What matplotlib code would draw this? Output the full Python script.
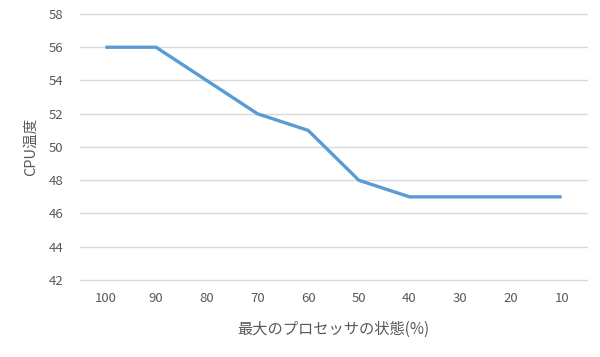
import matplotlib
matplotlib.use("Agg")
import matplotlib.pyplot as plt

# data
categories = ["100", "90", "80", "70", "60", "50", "40", "30", "20", "10"]
cpu_temp = [56, 56, 54, 52, 51, 48, 47, 47, 47, 47]
y_ticks = [42, 44, 46, 48, 50, 52, 54, 56, 58]

plt.rcParams["font.family"] = ["Noto Sans CJK JP", "DejaVu Sans"]

fig = plt.figure(figsize=(6.0, 3.57), dpi=100)
ax = fig.add_axes([0.1333, 0.2157, 0.845, 0.7451])

x = list(range(len(categories)))
ax.plot(x, cpu_temp, color="#5B9BD5", linewidth=2.4, solid_capstyle="butt", zorder=3)

ax.set_xlim(-0.5, len(categories) - 0.5)
ax.set_ylim(y_ticks[0], y_ticks[-1])
ax.set_yticks(y_ticks)
ax.set_xticks(x)
ax.set_xticklabels(categories)

# horizontal gridlines, drawn unclipped so the 42 and 58 lines show fully
for v in y_ticks:
    ax.axhline(v, color="#D9D9D9", linewidth=1.0, zorder=1, clip_on=False)
for s in ax.spines.values():
    s.set_visible(False)
ax.tick_params(length=0, colors="#595959", labelsize=9.5)
ax.tick_params(axis="y", pad=12)
ax.tick_params(axis="x", pad=9)

ax.set_ylabel("CPU温度", color="#595959", fontsize=10.5, labelpad=8)
ax.set_xlabel("最大のプロセッサの状態(%)", color="#595959", fontsize=11, labelpad=11)

fig.savefig("out.png", dpi=100)
